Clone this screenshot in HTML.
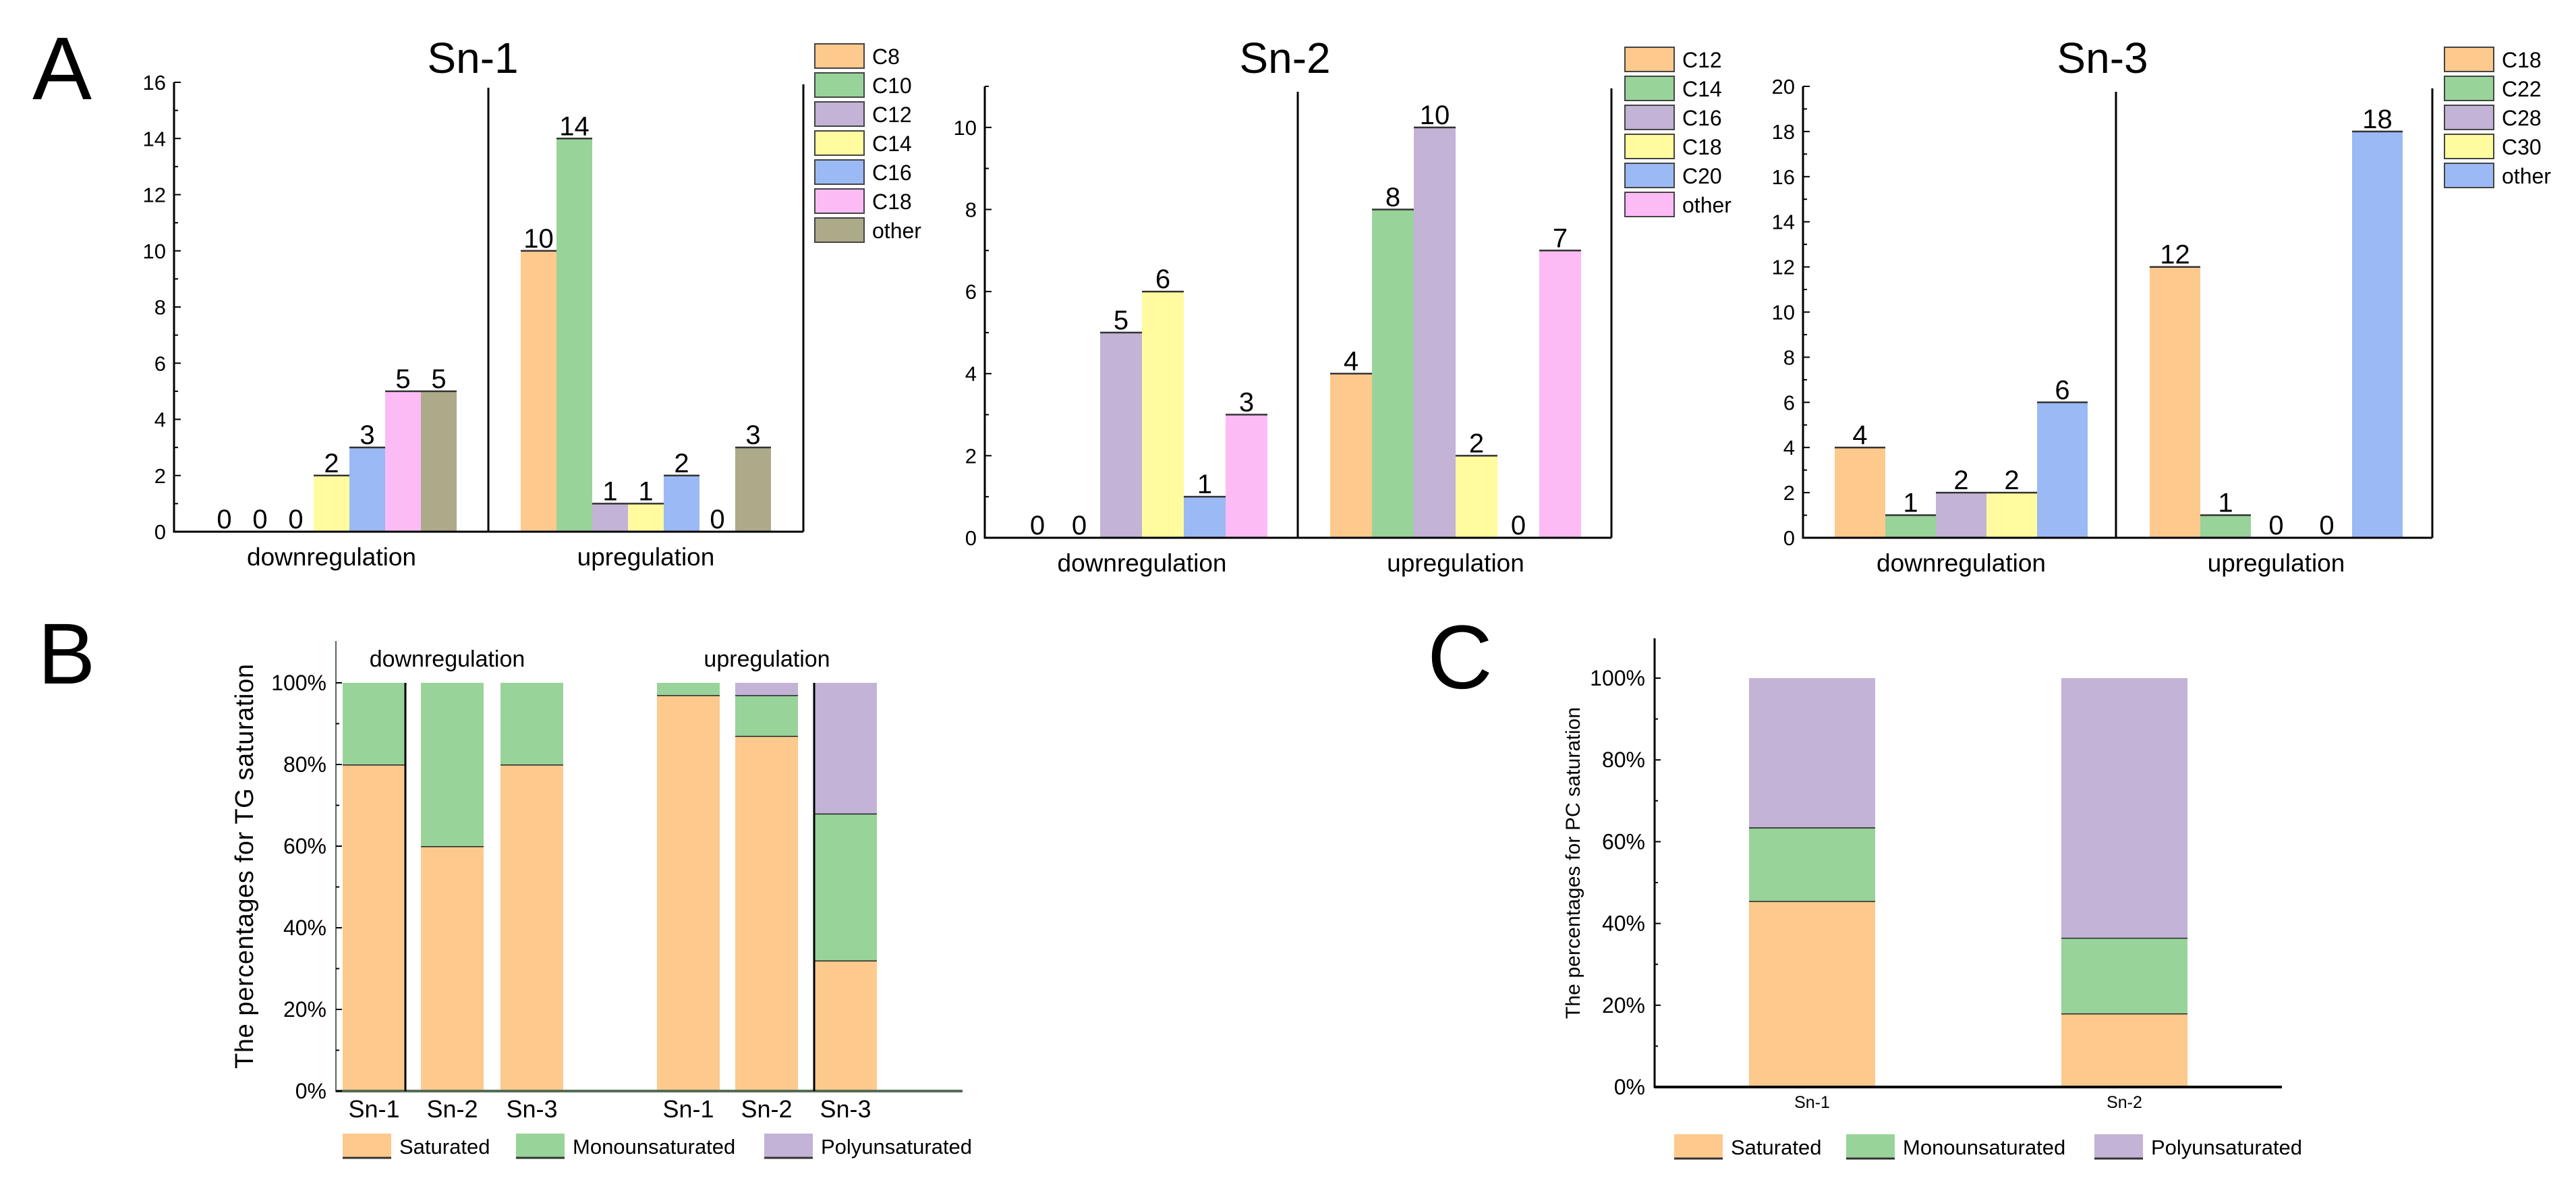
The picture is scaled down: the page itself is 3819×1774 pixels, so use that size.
<!DOCTYPE html>
<html><head><meta charset="utf-8"><title>Fatty acid chain and saturation charts</title>
<style>
html,body{margin:0;padding:0;background:#fff;}
svg{display:block;font-family:"Liberation Sans",Arial,sans-serif;}
</style></head>
<body>
<svg id="fig" width="3819" height="1774" viewBox="0 0 3819 1774" xmlns="http://www.w3.org/2000/svg">
<rect x="0" y="0" width="3819" height="1774" fill="#ffffff"/>
<text x="48" y="147" font-size="132">A</text>
<text x="56" y="1013" font-size="128">B</text>
<text x="2116" y="1020" font-size="134">C</text>
</svg>
<script>
// ---------- Panel A data ----------
const groups = ["downregulation", "upregulation"];
const sn1Categories = ["C8","C10","C12","C14","C16","C18","other"];
const sn1Down = [0,0,0,2,3,5,5];
const sn1Up = [10,14,1,1,2,0,3];
const sn1Ticks = [0,2,4,6,8,10,12,14,16];
const sn2Categories = ["C12","C14","C16","C18","C20","other"];
const sn2Down = [0,0,5,6,1,3];
const sn2Up = [4,8,10,2,0,7];
const sn2Ticks = [0,2,4,6,8,10];
const sn3Categories = ["C18","C22","C28","C30","other"];
const sn3Down = [4,1,2,2,6];
const sn3Up = [12,1,0,0,18];
const sn3Ticks = [0,2,4,6,8,10,12,14,16,18,20];
// ---------- Panel B data ----------
const tgBars = ["Sn-1","Sn-2","Sn-3","Sn-1","Sn-2","Sn-3"];
const tgSaturated = [80,60,80,97,87,32];
const tgMono = [20,40,20,3,10,36];
const tgPoly = [0,0,0,0,3,32];
const pctTicks = [0,20,40,60,80,100];
// ---------- Panel C data ----------
const pcBars = ["Sn-1","Sn-2"];
const pcSaturated = [45.5,18];
const pcMono = [18,18.5];
const pcPoly = [36.5,63.5];
const saturationSeries = ["Saturated","Monounsaturated","Polyunsaturated"];

const NS = "http://www.w3.org/2000/svg";
const svg = document.getElementById("fig");
const PALETTE = ["#FDC98D","#98D39A","#C3B3D6","#FFFB9E","#9BB9F4","#FDBBF6","#ADAA8A"];
const satCol = ["#FDC98D","#98D39A","#C3B3D6"];
function mk(tag, attrs, parent){
  const e = document.createElementNS(NS, tag);
  for (const k in attrs) e.setAttribute(k, attrs[k]);
  (parent||svg).appendChild(e);
  return e;
}
function txt(x,y,s,size,anchor,parent){
  const t = mk("text",{x:x,y:y,"font-size":size,"text-anchor":anchor||"middle",fill:"#000"},parent);
  t.textContent = s;
  return t;
}

function groupedPanel(cfg){
  const g = mk("g",{});
  
  
  const ymax = cfg.max;
  const yScale = v => cfg.y0 - (v/ymax)*(cfg.y0 - cfg.yTop);
  const tt = txt(cfg.titleX, 108, cfg.title, 64, "middle", g);
  
  
  const series = [cfg.down, cfg.up];
  series.forEach((vals, gi) => {
    const start = gi === 0 ? cfg.downStart : cfg.upStart;
    vals.forEach((v, i) => {
      const x = start + i*cfg.bw;
      const cat = cfg.cats[i];
      if (v > 0) {
        const r = mk("rect",{x:x,y:yScale(v),width:cfg.bw,height:cfg.y0-yScale(v),fill:PALETTE[i]},g);
        
        
        mk("line",{x1:x,x2:x+cfg.bw,y1:yScale(v),y2:yScale(v),stroke:"#333","stroke-width":2.5},g);
      }
      const lb = txt(x+cfg.bw/2, yScale(v)-5, String(v), 40, "middle", g);
      
      
    });
    const cx = start + vals.length*cfg.bw/2;
    const cl = txt(cx, cfg.y0+50, groups[gi], 37, "middle", g);
    
    
  });
  const ya = mk("line",{x1:cfg.x0,x2:cfg.x0,y1:cfg.yTop,y2:cfg.y0+1.5,stroke:"#000","stroke-width":3},g);
  
  
  const xa = mk("line",{x1:cfg.x0,x2:cfg.x1,y1:cfg.y0,y2:cfg.y0,stroke:"#000","stroke-width":3},g);
  
  
  mk("line",{x1:cfg.x1,x2:cfg.x1,y1:cfg.yTop+3,y2:cfg.y0,stroke:"#000","stroke-width":3},g);
  const dv = mk("line",{x1:cfg.div,x2:cfg.div,y1:cfg.yTop+8,y2:cfg.y0,stroke:"#000","stroke-width":3},g);
  
  
  for (let v = 0; v <= ymax; v++) {
    const y = yScale(v);
    const major = cfg.ticks.indexOf(v) >= 0;
    mk("line",{x1:cfg.x0,x2:cfg.x0+(major?10:6),y1:y,y2:y,stroke:"#000","stroke-width":2},g);
  }
  cfg.ticks.forEach(v => {
    const t = txt(cfg.x0-12, yScale(v)+11, String(v), 31, "end", g);
    
    
  });
  cfg.cats.forEach((c, i) => {
    const y = cfg.legY + i*43;
    const r = mk("rect",{x:cfg.legX,y:y,width:73,height:36,fill:PALETTE[i],stroke:"#444","stroke-width":2},g);
    
    
    const t = txt(cfg.legX+85, y+30, c, 32, "start", g);
    
    
  });
}

groupedPanel({name:"chart-sn1",title:"Sn-1",titleX:701,cats:sn1Categories,down:sn1Down,up:sn1Up,ticks:sn1Ticks,max:16,
  x0:258,x1:1191,y0:788,yTop:122,div:724,bw:53,downStart:306,upStart:772,legX:1208,legY:65});
groupedPanel({name:"chart-sn2",title:"Sn-2",titleX:1905,cats:sn2Categories,down:sn2Down,up:sn2Up,ticks:sn2Ticks,max:11,
  x0:1460,x1:2389,y0:797,yTop:128,div:1924,bw:62,downStart:1507,upStart:1972,legX:2409,legY:70});
groupedPanel({name:"chart-sn3",title:"Sn-3",titleX:3117,cats:sn3Categories,down:sn3Down,up:sn3Up,ticks:sn3Ticks,max:20,
  x0:2673,x1:3606,y0:797,yTop:128,div:3137,bw:75,downStart:2720,upStart:3187,legX:3624,legY:70});

function stackedPanel(cfg){
  const g = mk("g",{});
  
  
  const yScale = v => cfg.y0 - (v/100)*(cfg.y0 - cfg.y100);
  const layers = [cfg.sat, cfg.mono, cfg.poly];
  cfg.labels.forEach((lab, i) => {
    const x = cfg.xs[i];
    let base = 0;
    layers.forEach((arr, li) => {
      const v = arr[i];
      if (v > 0) {
        const r = mk("rect",{x:x,y:yScale(base+v),width:cfg.bw,height:yScale(base)-yScale(base+v),fill:satCol[li]},g);
        
        
      }
      base += v;
      if (li < 2 && v > 0 && base < 99.5) mk("line",{x1:x,x2:x+cfg.bw,y1:yScale(base),y2:yScale(base),stroke:"#222","stroke-width":3},g);
    });
    const t = txt(x+cfg.bw/2, cfg.catY, lab, cfg.catSize, "middle", g);
    
    
  });
  const ya = mk("line",{x1:cfg.x0,x2:cfg.x0,y1:cfg.yTop,y2:cfg.y0+1.5,stroke:cfg.axisCol,"stroke-width":cfg.axW},g);
  
  
  const xa = mk("line",{x1:cfg.x0,x2:cfg.x1,y1:cfg.y0,y2:cfg.y0,stroke:cfg.axisCol,"stroke-width":4},g);
  
  
  for (let v = 0; v <= 100; v += 10) {
    const y = yScale(v);
    mk("line",{x1:cfg.x0,x2:cfg.x0+(v%20===0?9:5),y1:y,y2:y,stroke:"#000","stroke-width":2},g);
  }
  pctTicks.forEach(v => {
    const t = txt(cfg.x0-14, yScale(v)+11, v + "%", 32, "end", g);
    
    
  });
  const yt = txt(0, 0, cfg.ytitle, cfg.ytSize, "middle", g);
  yt.setAttribute("transform", "translate(" + cfg.ytX + "," + cfg.ytY + ") rotate(-90)");
  yt.setAttribute("textLength", cfg.ytLen);
  
  
  saturationSeries.forEach((s, i) => {
    const r = mk("rect",{x:cfg.legXs[i],y:cfg.legY,width:72,height:36,fill:satCol[i]},g);
    mk("line",{x1:cfg.legXs[i],x2:cfg.legXs[i]+72,y1:cfg.legY+36,y2:cfg.legY+36,stroke:"#333","stroke-width":3},g);
    
    
    const t = txt(cfg.legXs[i]+84, cfg.legY+30, s, 31, "start", g);
    
    
  });
  return g;
}

const gB = stackedPanel({name:"chart-tg-saturation",labels:tgBars,sat:tgSaturated,mono:tgMono,poly:tgPoly,
  xs:[508,624,742,974,1090,1207],bw:93,x0:498,x1:1427,y0:1617,y100:1012,yTop:950,axisCol:"#556b55",axW:2,
  catY:1656,catSize:36,ytitle:"The percentages for TG saturation",ytSize:38,ytX:375,ytY:1284,ytLen:600,
  legXs:[508,765,1133],legY:1680});
const gl1 = txt(663, 988, groups[0], 34, "middle", gB);


const gl2 = txt(1137, 988, groups[1], 34, "middle", gB);


mk("line",{x1:601,x2:601,y1:1012,y2:1617,stroke:"#000","stroke-width":3},gB);
mk("line",{x1:1207,x2:1207,y1:1012,y2:1617,stroke:"#000","stroke-width":3},gB);

stackedPanel({name:"chart-pc-saturation",labels:pcBars,sat:pcSaturated,mono:pcMono,poly:pcPoly,
  xs:[2593,3056],bw:187,x0:2453,x1:3383,y0:1611,y100:1005,yTop:946,axisCol:"#000",axW:3,
  catY:1642,catSize:25,ytitle:"The percentages for PC saturation",ytSize:30,ytX:2342,ytY:1279,ytLen:462,
  legXs:[2482,2737,3105],legY:1681});
</script>
</body></html>
